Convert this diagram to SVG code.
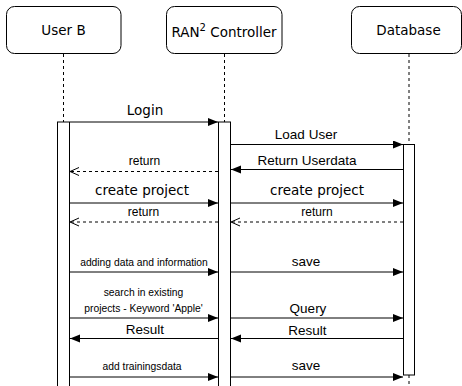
<svg xmlns="http://www.w3.org/2000/svg" width="462" height="386" viewBox="0 0 462 386">
<style>
.box{fill:#fff;stroke:#000;stroke-width:1}
.life{stroke:#000;stroke-width:1;stroke-dasharray:3 3;fill:none}
.bar{fill:#fff;stroke:#000;stroke-width:1}
.hd{font-family:"DejaVu Sans",sans-serif;font-size:13.5px;fill:#000;text-anchor:middle}
.dv{font-family:"DejaVu Sans",sans-serif;font-size:13.5px;fill:#000;text-anchor:middle}
.ar{font-family:"Liberation Sans",Arial,sans-serif;font-size:13.5px;fill:#000;text-anchor:middle}
.sm{font-family:"Liberation Sans",Arial,sans-serif;font-size:12px;fill:#000;text-anchor:middle}
.xs{font-family:"Liberation Sans",Arial,sans-serif;font-size:10.3px;fill:#000;text-anchor:middle}
.msg{stroke:#000;stroke-width:1;fill:none;marker-end:url(#block)}
.ret{stroke:#000;stroke-width:1;fill:none;stroke-dasharray:3 3;marker-end:url(#open)}
</style>
<defs>
<marker id="block" markerUnits="userSpaceOnUse" markerWidth="11" markerHeight="9" refX="10" refY="4" orient="auto">
<path d="M0,0 L10,4 L0,8 z" fill="#000" stroke="none"/>
</marker>
<marker id="open" markerUnits="userSpaceOnUse" markerWidth="11" markerHeight="10" refX="9.5" refY="4.5" orient="auto">
<path d="M0.5,0.5 L9.5,4.5 L0.5,8.5" fill="none" stroke="#000" stroke-width="1" stroke-dasharray="none"/>
</marker>
</defs>

<g id="userB">
<rect class="box" x="6.5" y="6.5" width="114.5" height="47" rx="8"/>
<text class="hd" x="63.5" y="35">User B</text>
<line class="life" x1="63.5" y1="54" x2="63.5" y2="122"/>
<rect class="bar" x="57.5" y="122" width="12" height="270"/>
</g>

<g id="controller">
<rect class="box" x="166.5" y="6.5" width="115.5" height="47" rx="8"/>
<text class="hd" x="224" y="37">RAN<tspan dy="-6" font-size="10px">2</tspan><tspan dy="6"> Controller</tspan></text>
<line class="life" x1="224.5" y1="54" x2="224.5" y2="122"/>
<rect class="bar" x="218.5" y="122" width="12" height="270"/>
</g>

<g id="database">
<rect class="box" x="351.5" y="6.5" width="110" height="47" rx="8"/>
<text class="hd" x="408.5" y="35">Database</text>
<line class="life" x1="409" y1="54" x2="409" y2="144"/>
<rect class="bar" x="403.5" y="144.5" width="11" height="230.5"/>
<line class="life" x1="409" y1="375" x2="409" y2="386"/>
</g>

<g id="connectors">
<line class="msg" x1="70" y1="122" x2="218" y2="122"/>
<text class="dv" x="145" y="115">Login</text>

<line class="msg" x1="231" y1="144.5" x2="403" y2="144.5"/>
<text class="ar" x="306" y="138.5">Load User</text>

<line class="msg" x1="403" y1="169.5" x2="231" y2="169.5"/>
<text class="ar" x="307" y="164.5">Return Userdata</text>

<line class="ret" x1="218" y1="171.5" x2="70" y2="171.5"/>
<text class="sm" x="144.5" y="164.5">return</text>

<line class="msg" x1="69" y1="203" x2="218" y2="203"/>
<text class="dv" x="142" y="195">create project</text>

<line class="msg" x1="231" y1="203" x2="403" y2="203"/>
<text class="dv" x="317" y="195">create project</text>

<line class="ret" x1="218" y1="222" x2="70" y2="222"/>
<text class="sm" x="143.5" y="215.5">return</text>

<line class="ret" x1="403" y1="222" x2="231" y2="222"/>
<text class="sm" x="317" y="215.5">return</text>

<line class="msg" x1="70" y1="272" x2="218" y2="272"/>
<text class="xs" x="144" y="266">adding data and information</text>

<line class="msg" x1="231" y1="272" x2="403" y2="272"/>
<text class="ar" x="306" y="266">save</text>

<line class="msg" x1="70" y1="318" x2="218" y2="318"/>
<text class="xs" x="143.5" y="295.5">search in existing</text>
<text class="xs" x="143.5" y="311.5">projects - Keyword 'Apple'</text>

<line class="msg" x1="231" y1="318" x2="403" y2="318"/>
<text class="ar" x="308" y="313">Query</text>

<line class="msg" x1="218" y1="338.5" x2="70" y2="338.5"/>
<text class="ar" x="145" y="334">Result</text>

<line class="msg" x1="403" y1="338.5" x2="231" y2="338.5"/>
<text class="ar" x="307.5" y="334.5">Result</text>

<line class="msg" x1="70" y1="377" x2="218" y2="377"/>
<text class="xs" x="142" y="370">add trainingsdata</text>

<line class="msg" x1="231" y1="377" x2="403" y2="377"/>
<text class="ar" x="306" y="370">save</text>
</g>
</svg>
